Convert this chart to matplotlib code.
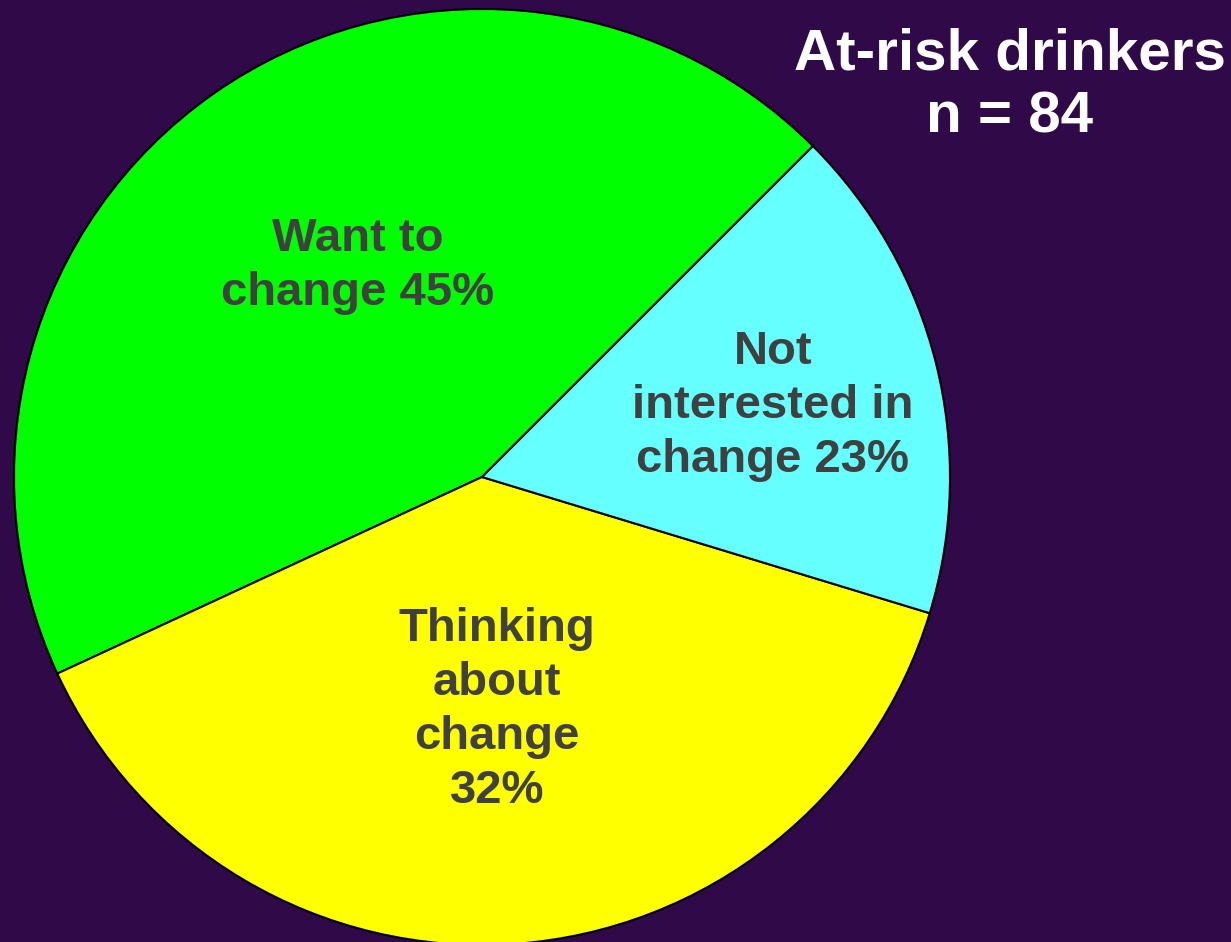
import matplotlib
matplotlib.use("Agg")
import matplotlib.pyplot as plt

categories = ["Want to\nchange 45%", "Thinking\nabout\nchange\n32%", "Not\ninterested in\nchange 23%"]
sizes = [44.4, 38.4, 17.2]
colors = ["#00FF00", "#FFFF00", "#66FFFF"]
title_text = "At-risk drinkers\nn = 84"

bg = "#300A48"
fig = plt.figure(figsize=(12.31, 9.42), dpi=100, facecolor=bg)
W, H = 1231, 942
cx, cy, r = 482, 477, 468
ax = fig.add_axes([(cx - r) / W, 1 - (cy + r) / H, 2 * r / W, 2 * r / H])
ax.set_facecolor(bg)

wedges, _ = ax.pie(sizes, colors=colors, startangle=45, counterclock=True,
                   wedgeprops=dict(edgecolor="black", linewidth=1.5),
                   radius=1.0)
ax.set_xlim(-1, 1)
ax.set_ylim(-1, 1)
ax.set_aspect("equal")
ax.axis("off")

def px(x, y):
    return ((x - cx) / r, (cy - y) / r)

label_pos = [(358, 266), (497, 710), (773, 406)]
for txt, (x, y) in zip(categories, label_pos):
    ax.text(*px(x, y), txt, ha="center", va="center", fontsize=34,
            fontweight="bold", color="#404040", family="Liberation Sans",
            linespacing=1.3)

fig.text(1010 / W, 1 - 86 / H, title_text, ha="center", va="center",
         fontsize=42, fontweight="bold", color="white", family="Liberation Sans",
         linespacing=1.2)

fig.savefig("out.png", dpi=100, facecolor=bg)
